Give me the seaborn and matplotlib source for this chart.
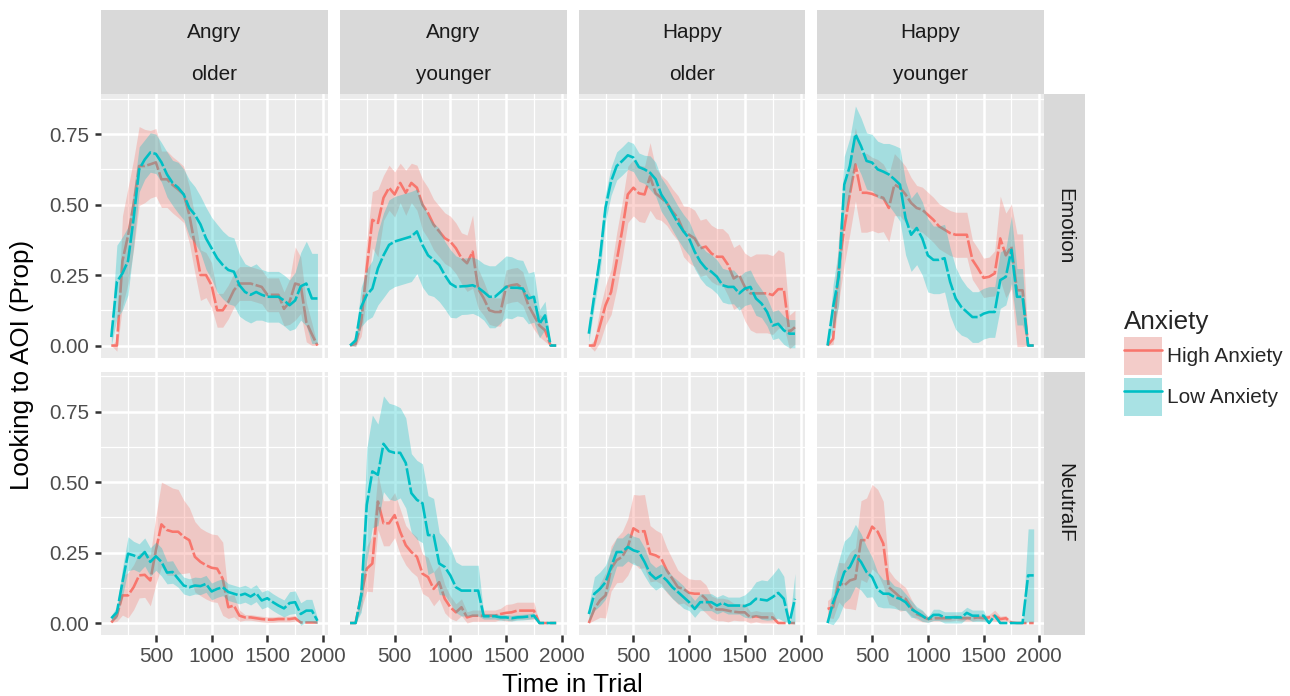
import matplotlib
matplotlib.use("Agg")
import matplotlib.pyplot as plt
from matplotlib.patches import Patch, Rectangle
from matplotlib.lines import Line2D
from matplotlib.legend_handler import HandlerTuple
import numpy as np
import pandas as pd
import seaborn as sns

# ---------------------------------------------------------------- data
time_ms = [100, 150, 200, 250, 300, 350, 400, 450, 500, 550, 600, 650, 700,
           750, 800, 850, 900, 950, 1000, 1050, 1100, 1150, 1200, 1250, 1300,
           1350, 1400, 1450, 1500, 1550, 1600, 1650, 1700, 1750, 1800, 1850,
           1900, 1950]

emotions = ["Angry", "Angry", "Happy", "Happy"]
ages = ["older", "younger", "older", "younger"]
aoi_rows = ["Emotion", "NeutralF"]
groups = ["High Anxiety", "Low Anxiety"]

# Emotion AOI -------------------------------------------------------------
angry_older_emotion_high = [0.0, 0.0, 0.30, 0.39, 0.50, 0.637, 0.637, 0.643, 0.65, 0.59, 0.59, 0.57, 0.554, 0.536, 0.464, 0.357, 0.25, 0.25, 0.214, 0.125, 0.125, 0.155, 0.196, 0.22, 0.22, 0.22, 0.214, 0.208, 0.18, 0.18, 0.18, 0.13, 0.155, 0.22, 0.214, 0.083, 0.04, 0.0]
angry_older_emotion_high_se = [0.0, 0.02, 0.16, 0.17, 0.16, 0.14, 0.13, 0.12, 0.12, 0.1, 0.1, 0.1, 0.1, 0.1, 0.1, 0.1, 0.09, 0.08, 0.08, 0.06, 0.06, 0.06, 0.06, 0.06, 0.06, 0.06, 0.06, 0.06, 0.06, 0.06, 0.06, 0.06, 0.08, 0.13, 0.1, 0.07, 0.04, 0.0]
angry_older_emotion_low = [0.03, 0.226, 0.256, 0.30, 0.45, 0.625, 0.66, 0.685, 0.68, 0.65, 0.607, 0.577, 0.56, 0.536, 0.488, 0.464, 0.43, 0.38, 0.345, 0.31, 0.286, 0.268, 0.262, 0.214, 0.19, 0.18, 0.19, 0.18, 0.173, 0.173, 0.173, 0.16, 0.143, 0.16, 0.21, 0.22, 0.167, 0.167]
angry_older_emotion_low_se = [0.03, 0.13, 0.13, 0.12, 0.1, 0.08, 0.07, 0.07, 0.07, 0.07, 0.08, 0.08, 0.09, 0.09, 0.1, 0.1, 0.1, 0.11, 0.11, 0.12, 0.12, 0.12, 0.12, 0.11, 0.1, 0.1, 0.1, 0.09, 0.09, 0.09, 0.09, 0.09, 0.09, 0.1, 0.12, 0.15, 0.16, 0.16]

angry_younger_emotion_high = [0.0, 0.006, 0.083, 0.274, 0.446, 0.435, 0.524, 0.56, 0.536, 0.577, 0.542, 0.577, 0.56, 0.5, 0.47, 0.429, 0.405, 0.381, 0.369, 0.345, 0.31, 0.292, 0.333, 0.202, 0.167, 0.125, 0.119, 0.119, 0.208, 0.214, 0.217, 0.202, 0.143, 0.107, 0.071, 0.054, 0.0, 0.0]
angry_younger_emotion_high_se = [0.0, 0.01, 0.05, 0.1, 0.1, 0.12, 0.08, 0.08, 0.08, 0.07, 0.08, 0.07, 0.08, 0.09, 0.09, 0.09, 0.09, 0.09, 0.09, 0.09, 0.09, 0.1, 0.13, 0.07, 0.06, 0.05, 0.05, 0.05, 0.06, 0.06, 0.06, 0.06, 0.05, 0.05, 0.04, 0.04, 0.0, 0.0]
angry_younger_emotion_low = [0.0, 0.018, 0.137, 0.18, 0.202, 0.274, 0.32, 0.357, 0.369, 0.375, 0.381, 0.387, 0.405, 0.357, 0.32, 0.304, 0.286, 0.25, 0.22, 0.208, 0.21, 0.211, 0.214, 0.205, 0.19, 0.173, 0.173, 0.19, 0.208, 0.205, 0.205, 0.202, 0.167, 0.173, 0.077, 0.107, 0.0, 0.0]
angry_younger_emotion_low_se = [0.0, 0.02, 0.07, 0.09, 0.1, 0.13, 0.15, 0.16, 0.16, 0.16, 0.16, 0.16, 0.15, 0.15, 0.14, 0.13, 0.13, 0.12, 0.12, 0.11, 0.1, 0.1, 0.1, 0.1, 0.1, 0.11, 0.11, 0.11, 0.11, 0.11, 0.1, 0.1, 0.09, 0.09, 0.05, 0.05, 0.0, 0.0]

happy_older_emotion_high = [0.0, 0.0, 0.071, 0.143, 0.19, 0.30, 0.41, 0.536, 0.56, 0.54, 0.536, 0.60, 0.54, 0.524, 0.506, 0.476, 0.452, 0.405, 0.393, 0.38, 0.345, 0.351, 0.327, 0.315, 0.315, 0.286, 0.238, 0.25, 0.208, 0.185, 0.185, 0.185, 0.185, 0.179, 0.2, 0.2, 0.048, 0.065]
happy_older_emotion_high_se = [0.0, 0.02, 0.06, 0.07, 0.08, 0.1, 0.1, 0.1, 0.1, 0.1, 0.1, 0.12, 0.09, 0.08, 0.08, 0.08, 0.08, 0.09, 0.1, 0.1, 0.1, 0.1, 0.1, 0.1, 0.1, 0.11, 0.11, 0.11, 0.12, 0.13, 0.14, 0.14, 0.14, 0.14, 0.14, 0.13, 0.06, 0.06]
happy_older_emotion_low = [0.042, 0.18, 0.31, 0.49, 0.583, 0.637, 0.655, 0.675, 0.667, 0.633, 0.625, 0.613, 0.59, 0.536, 0.506, 0.47, 0.435, 0.405, 0.38, 0.333, 0.298, 0.274, 0.262, 0.244, 0.214, 0.208, 0.208, 0.185, 0.202, 0.208, 0.167, 0.149, 0.119, 0.071, 0.077, 0.054, 0.042, 0.042]
happy_older_emotion_low_se = [0.03, 0.04, 0.05, 0.05, 0.05, 0.05, 0.05, 0.05, 0.05, 0.05, 0.05, 0.06, 0.06, 0.06, 0.06, 0.06, 0.06, 0.06, 0.06, 0.06, 0.06, 0.06, 0.06, 0.06, 0.06, 0.06, 0.06, 0.06, 0.06, 0.06, 0.06, 0.05, 0.05, 0.05, 0.05, 0.05, 0.05, 0.05]

happy_younger_emotion_high = [0.0, 0.024, 0.274, 0.417, 0.536, 0.643, 0.542, 0.542, 0.538, 0.53, 0.524, 0.488, 0.571, 0.56, 0.536, 0.506, 0.488, 0.482, 0.464, 0.446, 0.423, 0.411, 0.399, 0.393, 0.393, 0.393, 0.304, 0.274, 0.24, 0.244, 0.256, 0.38, 0.32, 0.351, 0.196, 0.196, 0.0, 0.0]
happy_younger_emotion_high_se = [0.0, 0.02, 0.12, 0.13, 0.14, 0.13, 0.14, 0.14, 0.13, 0.13, 0.12, 0.12, 0.11, 0.1, 0.1, 0.09, 0.08, 0.08, 0.08, 0.08, 0.08, 0.08, 0.08, 0.08, 0.08, 0.08, 0.07, 0.07, 0.07, 0.07, 0.08, 0.15, 0.15, 0.15, 0.2, 0.2, 0.0, 0.0]
happy_younger_emotion_low = [0.0, 0.137, 0.244, 0.571, 0.637, 0.75, 0.708, 0.655, 0.649, 0.625, 0.617, 0.607, 0.59, 0.571, 0.452, 0.393, 0.417, 0.38, 0.32, 0.304, 0.304, 0.31, 0.226, 0.167, 0.137, 0.119, 0.101, 0.101, 0.113, 0.119, 0.119, 0.232, 0.244, 0.34, 0.173, 0.173, 0.0, 0.0]
happy_younger_emotion_low_se = [0.0, 0.08, 0.1, 0.1, 0.1, 0.1, 0.1, 0.1, 0.1, 0.1, 0.1, 0.11, 0.12, 0.13, 0.13, 0.13, 0.13, 0.13, 0.13, 0.12, 0.12, 0.12, 0.12, 0.11, 0.1, 0.09, 0.09, 0.09, 0.09, 0.09, 0.09, 0.1, 0.1, 0.12, 0.1, 0.1, 0.0, 0.0]

# NeutralF AOI ------------------------------------------------------------
angry_older_neutral_high = [0.002, 0.026, 0.098, 0.098, 0.127, 0.169, 0.171, 0.151, 0.258, 0.35, 0.33, 0.324, 0.324, 0.306, 0.294, 0.235, 0.217, 0.205, 0.196, 0.193, 0.157, 0.056, 0.062, 0.026, 0.02, 0.02, 0.017, 0.014, 0.012, 0.012, 0.014, 0.014, 0.014, 0.017, 0.002, 0.002, 0.002, 0.002]
angry_older_neutral_high_se = [0.0, 0.02, 0.07, 0.08, 0.08, 0.08, 0.08, 0.09, 0.12, 0.15, 0.16, 0.155, 0.15, 0.13, 0.115, 0.125, 0.12, 0.12, 0.12, 0.12, 0.13, 0.04, 0.04, 0.02, 0.01, 0.01, 0.01, 0.01, 0.01, 0.01, 0.01, 0.01, 0.01, 0.01, 0.0, 0.0, 0.0, 0.0]
angry_older_neutral_low = [0.017, 0.038, 0.145, 0.246, 0.24, 0.231, 0.252, 0.217, 0.237, 0.217, 0.179, 0.181, 0.157, 0.133, 0.127, 0.133, 0.131, 0.139, 0.112, 0.121, 0.127, 0.11, 0.104, 0.098, 0.104, 0.094, 0.106, 0.08, 0.088, 0.074, 0.062, 0.052, 0.071, 0.074, 0.032, 0.044, 0.044, 0.008]
angry_older_neutral_low_se = [0.01, 0.02, 0.05, 0.06, 0.05, 0.05, 0.05, 0.05, 0.05, 0.05, 0.04, 0.04, 0.03, 0.03, 0.03, 0.03, 0.03, 0.03, 0.03, 0.03, 0.03, 0.03, 0.03, 0.03, 0.03, 0.03, 0.03, 0.03, 0.03, 0.03, 0.03, 0.03, 0.04, 0.04, 0.04, 0.04, 0.04, 0.01]

angry_younger_neutral_high = [0.0, 0.0, 0.098, 0.193, 0.211, 0.431, 0.354, 0.354, 0.383, 0.324, 0.276, 0.252, 0.235, 0.175, 0.163, 0.121, 0.145, 0.086, 0.056, 0.038, 0.056, 0.02, 0.026, 0.026, 0.026, 0.026, 0.026, 0.032, 0.036, 0.038, 0.044, 0.044, 0.044, 0.044, 0.0, 0.0, 0.0, 0.0]
angry_younger_neutral_high_se = [0.0, 0.0, 0.05, 0.08, 0.1, 0.1, 0.08, 0.08, 0.08, 0.08, 0.07, 0.07, 0.07, 0.07, 0.07, 0.06, 0.06, 0.05, 0.04, 0.03, 0.03, 0.02, 0.02, 0.02, 0.02, 0.02, 0.02, 0.02, 0.03, 0.03, 0.03, 0.03, 0.03, 0.03, 0.0, 0.0, 0.0, 0.0]
angry_younger_neutral_low = [0.0, 0.0, 0.098, 0.419, 0.538, 0.526, 0.636, 0.61, 0.604, 0.604, 0.568, 0.461, 0.437, 0.425, 0.312, 0.312, 0.211, 0.199, 0.169, 0.127, 0.115, 0.115, 0.115, 0.115, 0.024, 0.024, 0.024, 0.02, 0.02, 0.017, 0.02, 0.021, 0.023, 0.026, 0.0, 0.0, 0.0, 0.0]
angry_younger_neutral_low_se = [0.0, 0.0, 0.06, 0.2, 0.2, 0.18, 0.17, 0.17, 0.17, 0.16, 0.16, 0.14, 0.14, 0.14, 0.14, 0.13, 0.11, 0.1, 0.1, 0.09, 0.09, 0.09, 0.09, 0.09, 0.01, 0.01, 0.01, 0.01, 0.01, 0.01, 0.01, 0.01, 0.01, 0.01, 0.0, 0.0, 0.0, 0.0]

happy_older_neutral_high = [0.0, 0.05, 0.08, 0.098, 0.193, 0.223, 0.235, 0.27, 0.336, 0.324, 0.326, 0.246, 0.24, 0.229, 0.187, 0.157, 0.127, 0.121, 0.107, 0.104, 0.104, 0.086, 0.056, 0.048, 0.048, 0.044, 0.04, 0.038, 0.038, 0.02, 0.024, 0.02, 0.02, 0.02, 0.0, 0.0, 0.0, 0.0]
happy_older_neutral_high_se = [0.0, 0.04, 0.06, 0.08, 0.08, 0.08, 0.09, 0.1, 0.12, 0.13, 0.13, 0.1, 0.09, 0.09, 0.08, 0.07, 0.06, 0.05, 0.05, 0.05, 0.05, 0.05, 0.04, 0.04, 0.04, 0.04, 0.03, 0.03, 0.03, 0.02, 0.02, 0.02, 0.02, 0.02, 0.0, 0.0, 0.0, 0.0]
happy_older_neutral_low = [0.032, 0.104, 0.121, 0.145, 0.199, 0.252, 0.252, 0.27, 0.258, 0.252, 0.217, 0.175, 0.157, 0.169, 0.151, 0.127, 0.11, 0.092, 0.074, 0.05, 0.074, 0.074, 0.074, 0.062, 0.071, 0.062, 0.062, 0.062, 0.06, 0.068, 0.086, 0.083, 0.08, 0.092, 0.107, 0.086, 0.0, 0.086]
happy_older_neutral_low_se = [0.03, 0.06, 0.06, 0.06, 0.06, 0.05, 0.05, 0.05, 0.05, 0.05, 0.05, 0.04, 0.04, 0.04, 0.04, 0.04, 0.04, 0.04, 0.03, 0.03, 0.03, 0.03, 0.03, 0.03, 0.03, 0.03, 0.03, 0.03, 0.04, 0.05, 0.06, 0.07, 0.07, 0.08, 0.09, 0.08, 0.0, 0.09]

happy_younger_neutral_high = [0.05, 0.056, 0.145, 0.133, 0.151, 0.157, 0.294, 0.294, 0.342, 0.324, 0.282, 0.127, 0.11, 0.092, 0.086, 0.056, 0.032, 0.024, 0.014, 0.017, 0.017, 0.017, 0.017, 0.02, 0.017, 0.017, 0.017, 0.02, 0.017, 0.02, 0.026, 0.014, 0.017, 0.002, 0.0, 0.0, 0.0, 0.0]
happy_younger_neutral_high_se = [0.03, 0.04, 0.07, 0.08, 0.1, 0.11, 0.14, 0.15, 0.15, 0.15, 0.15, 0.06, 0.05, 0.05, 0.04, 0.03, 0.02, 0.02, 0.01, 0.01, 0.01, 0.01, 0.01, 0.01, 0.01, 0.01, 0.01, 0.01, 0.01, 0.01, 0.02, 0.01, 0.01, 0.0, 0.0, 0.0, 0.0, 0.0]
happy_younger_neutral_low = [0.0, 0.074, 0.121, 0.181, 0.199, 0.24, 0.217, 0.181, 0.163, 0.119, 0.104, 0.104, 0.092, 0.086, 0.074, 0.05, 0.038, 0.026, 0.012, 0.029, 0.029, 0.02, 0.02, 0.02, 0.02, 0.036, 0.026, 0.026, 0.026, 0.0, 0.026, 0.0, 0.0, 0.0, 0.0, 0.0, 0.169, 0.169]
happy_younger_neutral_low_se = [0.0, 0.08, 0.1, 0.11, 0.11, 0.11, 0.1, 0.09, 0.07, 0.06, 0.05, 0.05, 0.04, 0.04, 0.03, 0.03, 0.02, 0.02, 0.01, 0.02, 0.02, 0.02, 0.02, 0.02, 0.02, 0.02, 0.02, 0.02, 0.02, 0.0, 0.0, 0.0, 0.0, 0.0, 0.0, 0.0, 0.165, 0.165]

series = {
    ("Emotion", 0): (angry_older_emotion_high, angry_older_emotion_high_se, angry_older_emotion_low, angry_older_emotion_low_se),
    ("Emotion", 1): (angry_younger_emotion_high, angry_younger_emotion_high_se, angry_younger_emotion_low, angry_younger_emotion_low_se),
    ("Emotion", 2): (happy_older_emotion_high, happy_older_emotion_high_se, happy_older_emotion_low, happy_older_emotion_low_se),
    ("Emotion", 3): (happy_younger_emotion_high, happy_younger_emotion_high_se, happy_younger_emotion_low, happy_younger_emotion_low_se),
    ("NeutralF", 0): (angry_older_neutral_high, angry_older_neutral_high_se, angry_older_neutral_low, angry_older_neutral_low_se),
    ("NeutralF", 1): (angry_younger_neutral_high, angry_younger_neutral_high_se, angry_younger_neutral_low, angry_younger_neutral_low_se),
    ("NeutralF", 2): (happy_older_neutral_high, happy_older_neutral_high_se, happy_older_neutral_low, happy_older_neutral_low_se),
    ("NeutralF", 3): (happy_younger_neutral_high, happy_younger_neutral_high_se, happy_younger_neutral_low, happy_younger_neutral_low_se),
}

rows = []
for (aoi, col), (hi, hi_se, lo, lo_se) in series.items():
    for grp, mean, se in (("High Anxiety", hi, hi_se), ("Low Anxiety", lo, lo_se)):
        for t, m, s in zip(time_ms, mean, se):
            rows.append({"aoi": aoi, "col": col, "Anxiety": grp, "time": t,
                         "prop": m, "lower": m - s, "upper": m + s})
df = pd.DataFrame(rows)

# ---------------------------------------------------------------- style
palette = {"High Anxiety": "#F8766D", "Low Anxiety": "#00BFC4"}
SMALL, LARGE = 10.4, 13.0          # text sizes (pt)

sns.set_theme(style="darkgrid", rc={
    "axes.facecolor": "#EBEBEB",
    "grid.color": "white",
    "axes.edgecolor": "none",
    "axes.linewidth": 0,
    "xtick.color": "#333333",
    "ytick.color": "#333333",
    "xtick.labelcolor": "#4D4D4D",
    "ytick.labelcolor": "#4D4D4D",
})
plt.rcParams["font.family"] = ["Liberation Sans", "DejaVu Sans"]

W, H, DPI = 1290, 696, 144
fig, axes = plt.subplots(2, 4, figsize=(W / DPI, H / DPI), dpi=DPI,
                         sharex=True, sharey=True)
left_px, right_px, top_px, bottom_px = 101, 1044, 94, 635
panel_w = (right_px - left_px - 3 * 12) / 4
panel_h = (bottom_px - top_px - 14) / 2
fig.subplots_adjust(left=left_px / W, right=right_px / W,
                    top=1 - top_px / H, bottom=1 - bottom_px / H,
                    wspace=12 / panel_w, hspace=14 / panel_h)

LW = 1.3
dash = (0, (6.5, 1.0))
z_order = {"High Anxiety": (2, 3), "Low Anxiety": (4, 5)}

for r, aoi in enumerate(aoi_rows):
    for c in range(4):
        ax = axes[r, c]
        sub = df[(df["aoi"] == aoi) & (df["col"] == c)]
        for grp in groups:
            g = sub[sub["Anxiety"] == grp]
            zr, zl = z_order[grp]
            ax.fill_between(g["time"], g["lower"], g["upper"],
                            color=palette[grp], alpha=0.3, lw=0, zorder=zr)
            sns.lineplot(data=g, x="time", y="prop", ax=ax, color=palette[grp],
                         errorbar=None, linewidth=LW, linestyle=dash,
                         zorder=zl)
        ax.set_xlabel("")
        ax.set_ylabel("")
        ax.set_xlim(7.5, 2042.5)
        ax.set_ylim(-0.0425, 0.8925)
        ax.set_xticks([500, 1000, 1500, 2000])
        ax.set_xticks([250, 750, 1250, 1750], minor=True)
        ax.set_yticks([0, 0.25, 0.5, 0.75])
        ax.set_yticks([0.125, 0.375, 0.625, 0.875], minor=True)
        ax.set_yticklabels(["0.00", "0.25", "0.50", "0.75"])
        ax.grid(which="major", color="white", linewidth=1.25)
        ax.grid(which="minor", color="white", linewidth=0.62)
        ax.set_axisbelow(True)
        ax.tick_params(which="major", length=3.25, width=1.25, pad=2.6,
                       labelsize=SMALL, bottom=(r == 1), left=(c == 0))
        ax.tick_params(which="minor", length=0)
        for s in ax.spines.values():
            s.set_visible(False)

# facet strips
for c in range(4):
    ax = axes[0, c]
    pos = ax.get_position()
    px = 1 / (pos.height * H)
    sh = 42 * px
    ax.add_patch(Rectangle((0, 1), 1, 2 * sh, transform=ax.transAxes,
                           clip_on=False, facecolor="#D9D9D9",
                           edgecolor="none", zorder=0))
    ax.text(0.5, 1 + 1.5 * sh - 2 * px, emotions[c], transform=ax.transAxes,
            ha="center", va="center", fontsize=SMALL, color="#1A1A1A")
    ax.text(0.5, 1 + 0.5 * sh - 1 * px, ages[c], transform=ax.transAxes,
            ha="center", va="center", fontsize=SMALL, color="#1A1A1A")

for r, aoi in enumerate(aoi_rows):
    ax = axes[r, 3]
    pos = ax.get_position()
    sw = 41 / (pos.width * W)
    ax.add_patch(Rectangle((1, 0), sw, 1, transform=ax.transAxes,
                           clip_on=False, facecolor="#D9D9D9",
                           edgecolor="none", zorder=0))
    ax.text(1 + 0.5 * sw, 0.5, aoi, transform=ax.transAxes, rotation=-90,
            ha="center", va="center", fontsize=SMALL, color="#1A1A1A")

# axis titles
fig.text((left_px + right_px) / 2 / W, 1 - 685 / H, "Time in Trial",
         ha="center", va="center", fontsize=LARGE, color="black")
fig.text(22 / W, 1 - (top_px + bottom_px) / 2 / H, "Looking to AOI (Prop)",
         ha="center", va="center", rotation=90, fontsize=LARGE, color="black")

# legend
handles = []
for grp in groups:
    handles.append((Patch(facecolor="#F2F2F2", edgecolor="none"),
                    Patch(facecolor=palette[grp], alpha=0.3, edgecolor="none"),
                    Line2D([], [], color=palette[grp], linewidth=LW)))
key_px = 38
fs_px = SMALL * DPI / 72
key_h = (key_px / fs_px - 0.245) / 0.65
leg = fig.legend(handles, groups,
                 handler_map={tuple: HandlerTuple(ndivide=1, pad=0)},
                 title="Anxiety", loc="upper left",
                 bbox_to_anchor=(1124 / W, 1 - 310 / H), frameon=False,
                 fontsize=SMALL, title_fontsize=LARGE,
                 handlelength=key_px / fs_px, handleheight=key_h,
                 labelspacing=3 / fs_px, handletextpad=5 / fs_px,
                 borderpad=0, borderaxespad=0, alignment="left")

fig.savefig("out.png", dpi=DPI)
